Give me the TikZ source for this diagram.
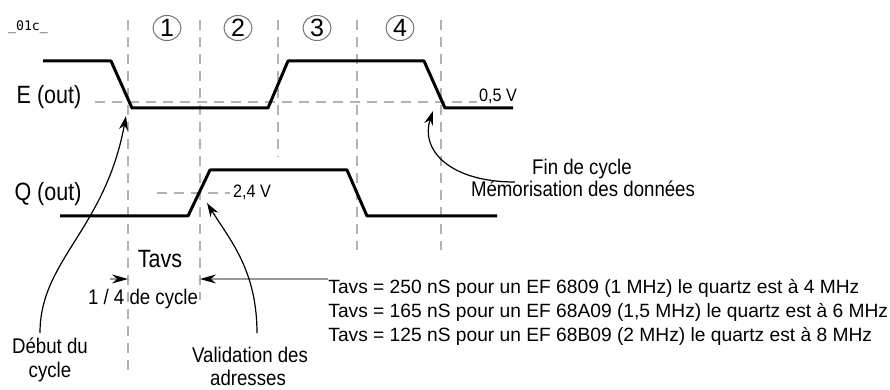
\documentclass[tikz,border=0pt]{standalone}
\usepackage{fontspec}
\setmainfont{Liberation Sans}
\setmonofont{DejaVu Sans Mono}
\usetikzlibrary{arrows.meta,shapes.geometric}
\tikzset{
  guide/.style={black!30, line width=0.7pt, dash pattern=on 5pt off 3.5pt},
  level/.style={black!30, line width=0.6pt, dash pattern=on 5pt off 3.5pt},
  signal/.style={line width=1.5pt, line join=round},
  biglabel/.style={font=\fontsize{12.5}{14}\selectfont, xscale=0.86, inner sep=0pt},
  medlabel/.style={font=\fontsize{10.6}{12}\selectfont, xscale=0.88, inner sep=0pt},
  voltlabel/.style={font=\fontsize{9}{11}\selectfont, xscale=0.9, inner sep=0pt},
  notelabel/.style={font=\fontsize{9.6}{11}\selectfont, inner sep=0pt, anchor=base west},
  phase/.style={ellipse, draw=black!55, line width=0.5pt, minimum width=14pt,
    minimum height=12.5pt, inner sep=0pt, font=\fontsize{12.5}{14}\selectfont},
  callout/.style={line width=0.6pt, -{Stealth[length=7pt,width=4.5pt]}},
  dimline/.style={black!40, line width=0.5pt, -{Stealth[length=8pt,width=4.5pt,black]}},
}
\begin{document}
\begin{tikzpicture}[x=0.5pt, y=-0.5pt]
  \useasboundingbox (0,0) rectangle (890,390);
  % Tag
  \node[font=\ttfamily\fontsize{6.6}{8}\selectfont] (tag) at (28,27) {\_01c\_};
  % Phase guides and numbers
  \foreach \x/\yb in {128/370,200/300,278/157,357/250,441/250}
    \draw[guide] (\x,20) -- (\x,\yb);
  \foreach \n/\x in {1/167,2/238,3/317,4/400}
    \node[phase] (ph\n) at (\x,28) {\n};
  % Threshold levels
  \draw[level] (95,102) -- (477,102);
  \draw[level] (157,193) -- (230,193);
  \node[voltlabel, anchor=base] (voltE) at (498,102) {0,5 V};
  \node[voltlabel, anchor=base] (voltQ) at (252,198) {2,4 V};
  % Signals
  \node[biglabel, anchor=base] (sigE) at (49,104) {E (out)};
  \node[biglabel, anchor=base] (sigQ) at (48,201) {Q (out)};
  \draw[signal] (43,61) -- (111,61) -- (132,108) -- (268,108) -- (288,61)
    -- (424,61) -- (445,108) -- (513,108);
  \draw[signal] (60,216) -- (188,216) -- (210,170) -- (347,170) -- (367,216)
    -- (497,216);
  % Tavs notes
  \node[notelabel] (note1) at (328,293) {Tavs = 250 nS pour un EF 6809 (1 MHz) le quartz est à 4 MHz};
  \node[notelabel] (note2) at (328,317) {Tavs = 165 nS pour un EF 68A09 (1,5 MHz) le quartz est à 6 MHz};
  \node[notelabel] (note3) at (328,341) {Tavs = 125 nS pour un EF 68B09 (2 MHz) le quartz est à 8 MHz};
  % Tavs dimension
  \coordinate (tavsL) at (110,279);
  \coordinate (tavsA) at (128,279);
  \coordinate (tavsB) at (200,279);
  \draw[dimline] (tavsL) -- (tavsA);
  \draw[dimline] (note1.west |- tavsB) -- (tavsB);
  \node[biglabel, anchor=base] (tavs) at (160,268) {Tavs};
  \node[medlabel, anchor=base] (quarter) at (143,305) {1 / 4 de cycle};
  % Callouts
  \node[medlabel, anchor=base] (debut) at (50,353) {Début du};
  \node[medlabel, anchor=base] (debutB) at (50,377) {cycle};
  \node[medlabel, anchor=base] (valid) at (250,362) {Validation des};
  \node[medlabel, anchor=base] (validB) at (248,385) {adresses};
  \node[medlabel, anchor=base] (fin) at (582,175) {Fin de cycle};
  \node[medlabel, anchor=base] (memo) at (583,197) {Mémorisation des données};
  \coordinate (debutTip) at (126,116);
  \coordinate (validTip) at (207,203);
  \coordinate (finTip) at (433,111);
  \draw[callout] ([xshift=-5pt,yshift=2pt]debut.north)
    .. controls +(0,-73) and +(-21,114) .. (debutTip);
  \draw[callout] ([xshift=3.5pt,yshift=6.5pt]valid.north)
    .. controls +(0,-63) and +(23,37) .. (validTip);
  \draw[callout] ([xshift=-8.5pt,yshift=-3.5pt]fin.base west)
    .. controls +(-65,0) and +(-13,39) .. (finTip);
\end{tikzpicture}
\end{document}
